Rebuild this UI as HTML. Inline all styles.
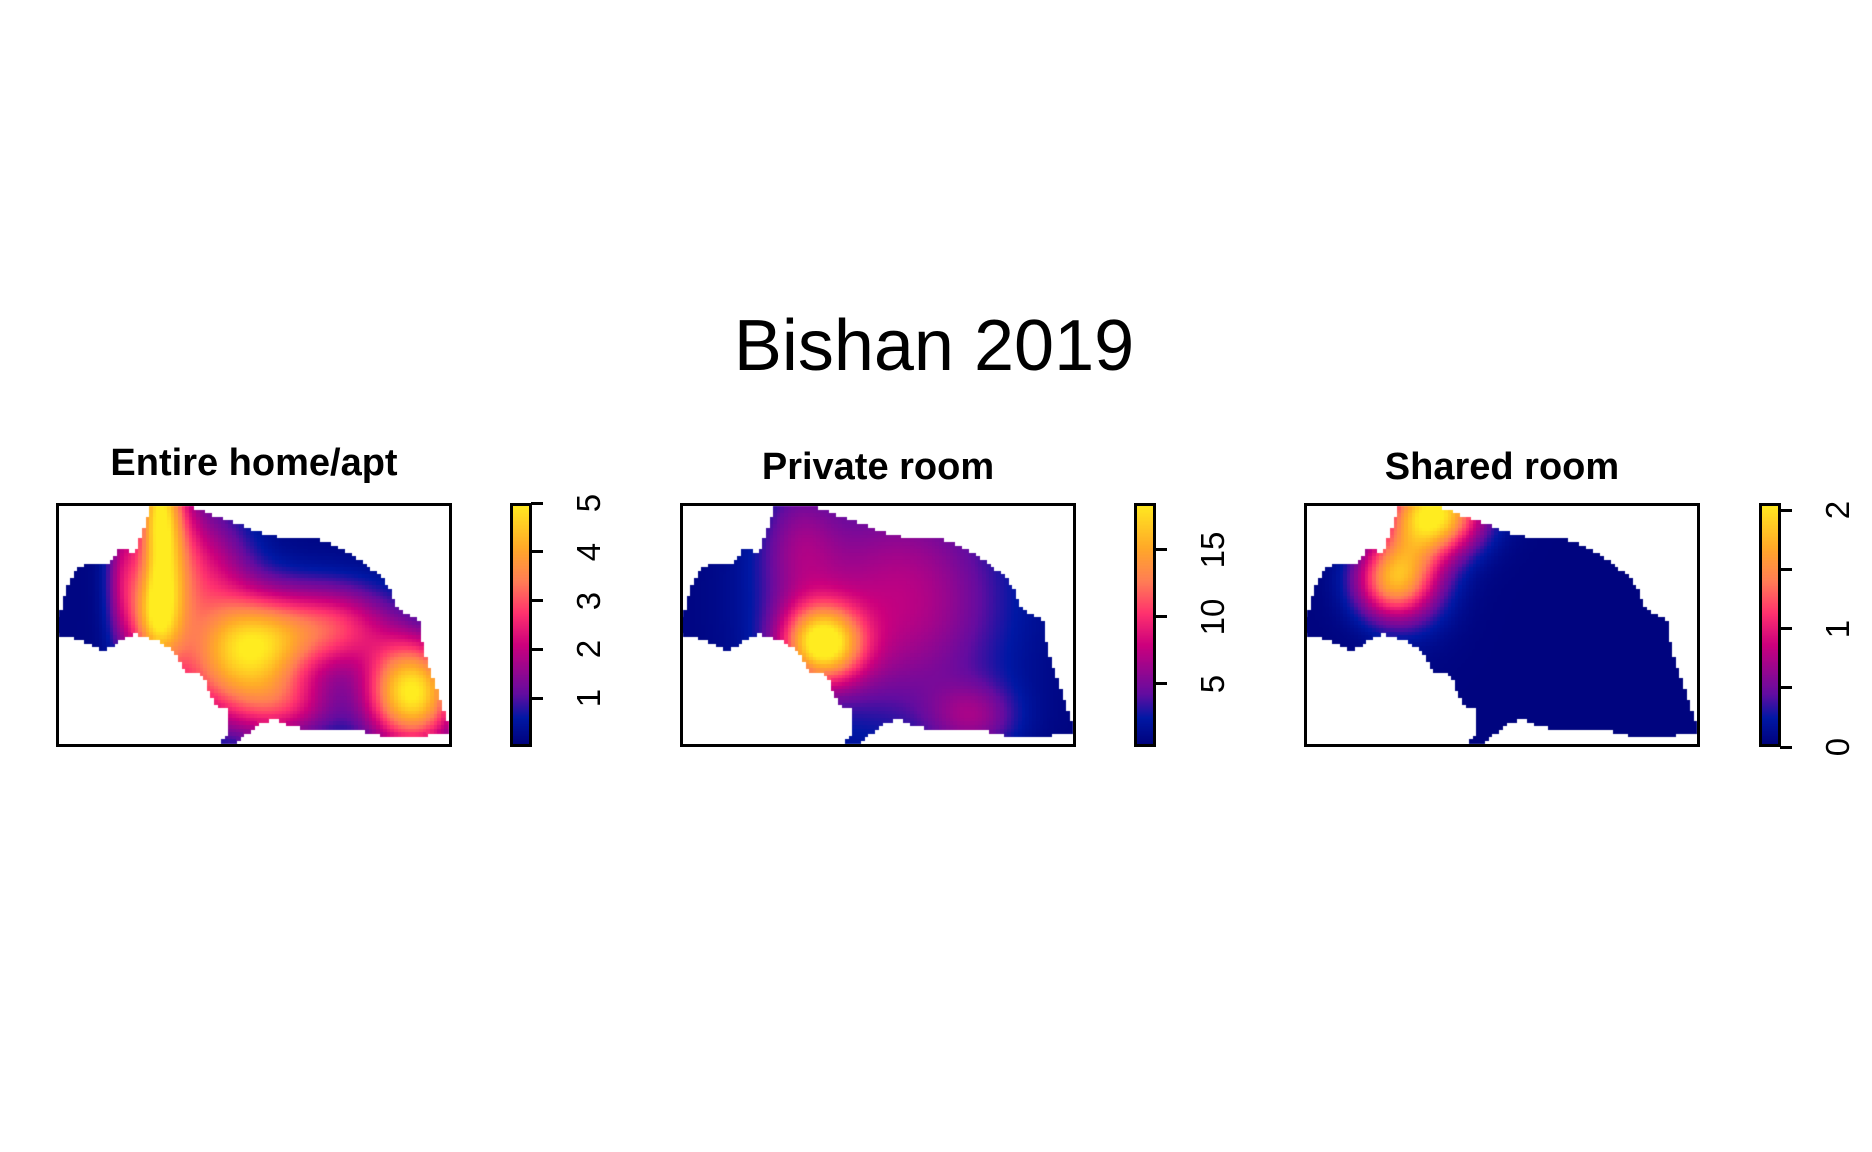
<!DOCTYPE html>
<html><head><meta charset="utf-8">
<style>
html,body{margin:0;padding:0;background:#fff;}
#root{position:relative;width:1872px;height:1152px;font-family:"Liberation Sans",Arial,sans-serif;}
.title{position:absolute;left:0;width:1868px;top:306px;text-align:center;font-size:72px;line-height:80px;}
.ptitle{position:absolute;font-weight:bold;font-size:38px;text-align:center;width:500px;}
canvas{position:absolute;}
.box{position:absolute;border:3px solid #000;box-sizing:border-box;}
.tick{position:absolute;height:3px;width:12px;background:#000;}
.tl{position:absolute;font-size:33px;transform:rotate(-90deg);transform-origin:center;width:60px;text-align:center;line-height:34px;}
</style></head>
<body><div id="root">
<div class="title">Bishan 2019</div>
</div>
<script>
// shared region outline (normalized u,v within map box)
const shapeU=[.239,.314,.344,.372,.391,.438,.485,.522,.559,.653,.700,.737,.766,.794,.822,.841,.850,.864,.888,.914,.920,.935,.953,.972,.995,.953,.831,.784,.728,.606,.550,.522,.494,.456,.442,.417,.437,.439,.408,.391,.372,.325,.316,.288,.250,.208,.185,.157,.128,.110,.084,.044,.005,0,0,.016,.025,.035,.053,.081,.110,.142,.152,.156,.180,.203,.208,.217,.222,.231];
const shapeV=[.01,.01,.023,.037,.05,.078,.105,.126,.144,.151,.174,.208,.236,.27,.312,.353,.4,.441,.462,.479,.564,.647,.729,.825,.934,.948,.952,.934,.927,.918,.884,.893,.927,.975,.992,.982,.955,.84,.832,.784,.7,.688,.647,.592,.558,.534,.537,.564,.599,.599,.571,.55,.534,.516,.482,.427,.373,.332,.263,.256,.249,.242,.214,.188,.195,.208,.167,.132,.105,.071];
const panels=[
 {name:'entire-home-apt',title:'Entire home/apt',x:56,y:503,cb:511,min:0,max:5,ticks:[1,2,3,4,5],labels:['1','2','3','4','5'],tY:466,
  base:0.15,bu:[.26,.25,.51,.90,.38,.71,.57,.17,.30,.40],bv:[.03,.47,.58,.78,.29,.51,.84,.30,.25,.72],ba:[3.8,3.4,3.9,4.9,1.8,2.3,1.8,1.6,1.4,1.5],bsx:[.04,.045,.1,.08,.08,.1,.1,.03,.05,.1],bsy:[.22,.15,.15,.15,.2,.12,.1,.2,.3,.15]},
 {name:'private-room',title:'Private room',x:680,y:503,cb:1135,min:0.3,max:18.5,ticks:[5,10,15],labels:['5','10','15'],tY:470,
  base:0.6,bu:[.36,.52,.74,.30,.62],bv:[.58,.42,.88,.18,.35],ba:[16,5.5,4.5,3.5,1.5],bsx:[.07,.2,.08,.07,.15],bsy:[.11,.35,.1,.2,.3]},
 {name:'shared-room',title:'Shared room',x:1304,y:503,cb:1760,min:0,max:2.06,ticks:[0,0.5,1,1.5,2],labels:['0','','1','','2'],tY:470,
  base:0.04,bu:[.34,.22,.28],bv:[.04,.32,.2],ba:[1.7,1.25,0.8],bsx:[.08,.065,.07],bsy:[.11,.11,.18]}
];
const BW=396,BH=244;
const stops=[[0,[0,0,120]],[.12,[0,24,165]],[.22,[100,12,160]],[.42,[205,0,125]],[.55,[255,50,110]],[.68,[255,125,85]],[.82,[255,170,40]],[1,[255,236,32]]];
function cmap(t){t=Math.max(0,Math.min(1,t));for(let i=1;i<stops.length;i++){if(t<=stops[i][0]){const a=stops[i-1],b=stops[i];const f=(t-a[0])/(b[0]-a[0]);return 'rgb('+a[1].map((c,k)=>Math.round(c+(b[1][k]-c)*f)).join(',')+')';}}return 'rgb(255,236,32)';}
function inside(u,v){let c=false;const n=shapeU.length;for(let i=0,j=n-1;i<n;j=i++){const ui=shapeU[i],vi=shapeV[i],uj=shapeU[j],vj=shapeV[j];if(((vi>v)!=(vj>v))&&(u<(uj-ui)*(v-vi)/(vj-vi)+ui))c=!c;}return c;}
const root=document.getElementById('root');
panels.forEach(p=>{
 const t=document.createElement('div');t.className='ptitle';t.textContent=p.title;
 t.style.left=(p.x+BW/2-250)+'px';t.style.top=(p.tY-24)+'px';
 
 
 root.appendChild(t);
 const cv=document.createElement('canvas');cv.width=BW;cv.height=BH;cv.style.left=p.x+'px';cv.style.top=p.y+'px';
 
 
 root.appendChild(cv);
 const ctx=cv.getContext('2d');const NC=110,NR=68;const cw=BW/NC,ch=BH/NR;
 for(let i=0;i<NC;i++)for(let j=0;j<NR;j++){const u=(i+.5)/NC,v=(j+.5)/NR;if(!inside(u,v))continue;
  let val=p.base;for(let k=0;k<p.bu.length;k++){const du=(u-p.bu[k])/p.bsx[k],dv=(v-p.bv[k])/p.bsy[k];val+=p.ba[k]*Math.exp(-(du*du+dv*dv)/2);}
  ctx.fillStyle=cmap((val-p.min)/(p.max-p.min));ctx.fillRect(Math.floor(i*cw),Math.floor(j*ch),Math.ceil(cw)+1,Math.ceil(ch)+1);}
 const b=document.createElement('div');b.className='box';b.style.cssText='left:'+p.x+'px;top:'+p.y+'px;width:'+BW+'px;height:'+BH+'px';
 
 
 root.appendChild(b);
 const cb=document.createElement('canvas');cb.width=20;cb.height=BH;cb.style.left=p.cb+'px';cb.style.top=p.y+'px';
 
 
 root.appendChild(cb);
 const c2=cb.getContext('2d');for(let y=0;y<BH;y++){c2.fillStyle=cmap(1-y/BH);c2.fillRect(0,y,20,1);}
 const cbb=document.createElement('div');cbb.className='box';cbb.style.cssText='left:'+(p.cb-1)+'px;top:'+p.y+'px;width:22px;height:'+BH+'px';
 
 
 root.appendChild(cbb);
 p.ticks.forEach((tv,k)=>{const y=p.y+BH-(tv-p.min)/(p.max-p.min)*BH;
  const tk=document.createElement('div');tk.className='tick';tk.style.left=(p.cb+20)+'px';tk.style.top=(y-1.5)+'px';
  
  
  root.appendChild(tk);
  if(p.labels[k]){const l=document.createElement('div');l.className='tl';l.textContent=p.labels[k];l.style.left=(p.cb+78-30)+'px';l.style.top=(y-17)+'px';
  
  
  root.appendChild(l);}
 });
});
</script>
</body></html>
